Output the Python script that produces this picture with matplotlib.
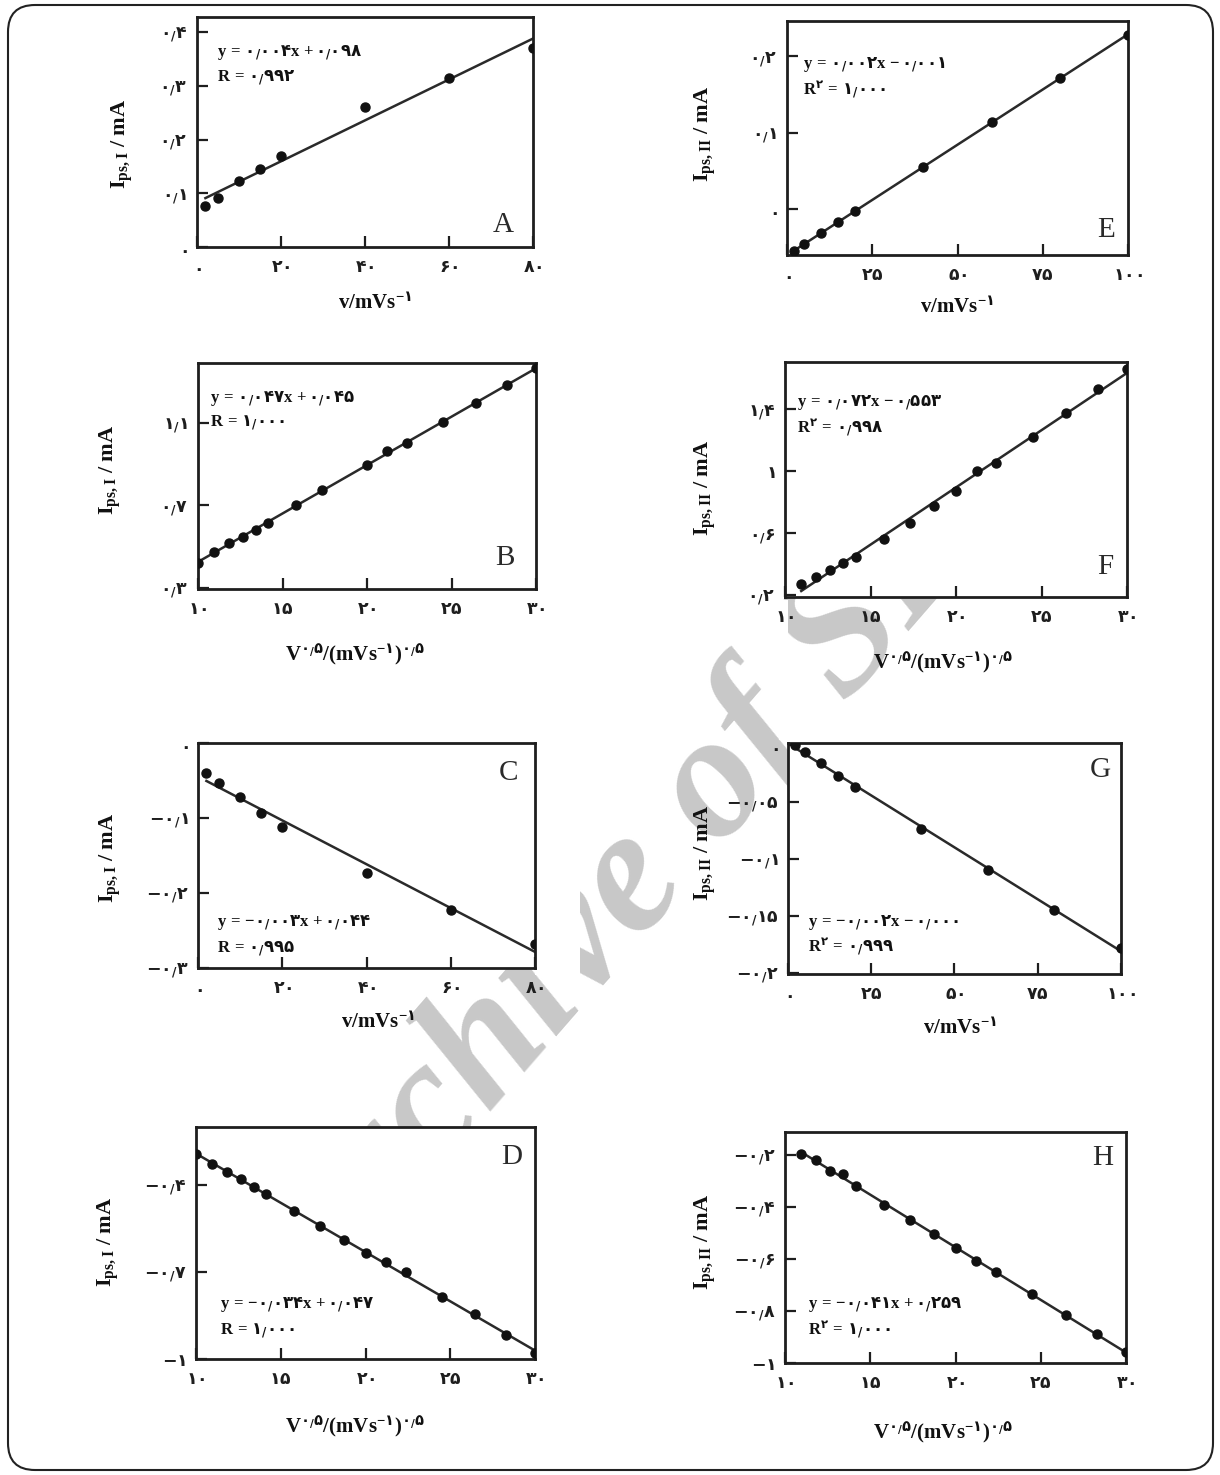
import numpy as np
import matplotlib
matplotlib.use('Agg')
import matplotlib.pyplot as plt
from matplotlib.patches import FancyBboxPatch, Rectangle

W, H = 1220, 1475

plt.rcParams['mathtext.fontset'] = 'custom'
plt.rcParams['mathtext.rm'] = 'Liberation Serif:bold'
plt.rcParams['mathtext.it'] = 'Liberation Serif:bold'
plt.rcParams['mathtext.bf'] = 'Liberation Serif:bold'
plt.rcParams['mathtext.sf'] = 'DejaVu Sans:bold'

FA = str.maketrans('0123456789', '۰۱۲۳۴۵۶۷۸۹')


def fam(s):
    # number written with Persian digits and a small low slash as decimal mark
    s = s.translate(FA)
    parts = s.split('.')
    return r'\mathsf{' + r'}_{\mathsf{/}}\mathsf{'.join(parts) + '}'


def tick(s):
    return '$' + fam(s) + '$'


def eq_math(s):
    out = []
    for tok in s.split():
        if tok == 'y':
            out.append(r'\mathbf{y}')
        elif tok == '=':
            out.append(r'\,\mathbf{=}\,')
        elif tok in ('+', '-'):
            out.append(r'\ \mathbf{' + tok + r'}\,')
        else:
            neg = tok.startswith('-')
            num = tok.lstrip('-')
            frag = fam(num.rstrip('x'))
            if num.endswith('x'):
                frag += r'\mathbf{x}'
            out.append((r'\mathbf{-}' if neg else '') + frag)
    return '$' + ''.join(out) + '$'


# ---- data ----
# A: Ips,I vs v
a_x = [2, 5, 10, 15, 20, 40, 60, 80]
a_y = [0.077, 0.091, 0.122, 0.145, 0.169, 0.260, 0.315, 0.371]
# E: Ips,II vs v
e_x = [2, 5, 10, 15, 20, 40, 60, 80, 100]
e_y = [-0.055, -0.046, -0.031, -0.017, -0.002, 0.055, 0.114, 0.171, 0.228]
# B: Ips,I vs v^0.5
b_x = [10.0, 10.95, 11.83, 12.65, 13.42, 14.14, 15.81, 17.32, 20.0,
       21.21, 22.36, 24.49, 26.46, 28.28, 30.0]
b_y = [0.423, 0.473, 0.517, 0.546, 0.582, 0.617, 0.702, 0.773, 0.898,
       0.962, 1.003, 1.103, 1.194, 1.281, 1.367]
# F: Ips,II vs v^0.5
f_x = [10.95, 11.83, 12.65, 13.42, 14.14, 15.81, 17.32, 18.71, 20.0,
       21.21, 22.36, 24.49, 26.46, 28.28, 30.0]
f_y = [0.271, 0.314, 0.364, 0.407, 0.448, 0.561, 0.667, 0.775, 0.872,
       1.000, 1.050, 1.219, 1.374, 1.530, 1.662]
# C: Ips,I (cathodic) vs v
c_x = [2, 5, 10, 15, 20, 40, 60, 80]
c_y = [-0.040, -0.054, -0.072, -0.093, -0.112, -0.174, -0.223, -0.268]
# G: Ips,II (cathodic) vs v
g_x = [2, 5, 10, 15, 20, 40, 60, 80, 100]
g_y = [0.0, -0.006, -0.016, -0.027, -0.037, -0.074, -0.110, -0.145, -0.178]
# D: Ips,I (cathodic) vs v^0.5
d_x = [10.0, 10.95, 11.83, 12.65, 13.42, 14.14, 15.81, 17.32, 18.71, 20.0,
       21.21, 22.36, 24.49, 26.46, 28.28, 30.0]
d_y = [-0.293, -0.328, -0.354, -0.381, -0.408, -0.431, -0.489, -0.541,
       -0.589, -0.633, -0.667, -0.701, -0.786, -0.844, -0.917, -0.978]
# H: Ips,II (cathodic) vs v^0.5
h_x = [10.95, 11.83, 12.65, 13.42, 14.14, 15.81, 17.32, 18.71, 20.0,
       21.21, 22.36, 24.49, 26.46, 28.28, 30.0]
h_y = [-0.196, -0.219, -0.260, -0.273, -0.319, -0.392, -0.450, -0.504,
       -0.559, -0.608, -0.649, -0.736, -0.815, -0.888, -0.959]

# tick labels
v80_ticks = ['0', '20', '40', '60', '80']
v100_ticks = ['0', '25', '50', '75', '100']
sq_ticks = ['10', '15', '20', '25', '30']
a_yticks = ['0', '0.1', '0.2', '0.3', '0.4']
e_yticks = ['0', '0.1', '0.2']
b_yticks = ['0.3', '0.7', '1.1']
f_yticks = ['0.2', '0.6', '1', '1.4']
c_yticks = ['0', '-0.1', '-0.2', '-0.3']
g_yticks = ['0', '-0.05', '-0.1', '-0.15', '-0.2']
d_yticks = ['-0.4', '-0.7', '-1']
h_yticks = ['-0.2', '-0.4', '-0.6', '-0.8', '-1']

# fit equations as printed
a_eq, a_r = 'y = 0.004x + 0.098', '0.992'
e_eq, e_r = 'y = 0.002x - 0.001', '1.000'
b_eq, b_r = 'y = 0.047x + 0.045', '1.000'
f_eq, f_r = 'y = 0.072x - 0.553', '0.998'
c_eq, c_r = 'y = -0.003x + 0.044', '0.995'
g_eq, g_r = 'y = -0.002x - 0.000', '0.999'
d_eq, d_r = 'y = -0.034x + 0.047', '1.000'
h_eq, h_r = 'y = -0.041x + 0.259', '1.000'

XLAB_V = r'$\mathbf{v/mVs}^{-\mathsf{' + '1'.translate(FA) + '}}$'
XLAB_SQ = (r'$\mathbf{V}^{' + fam('0.5') + r'}\mathbf{/(mVs}^{-\mathsf{'
           + '1'.translate(FA) + r'}}\mathbf{)}^{' + fam('0.5') + '}$')
YLAB_I = r'$\mathbf{I}_{\mathbf{ps,I}}$ / mA'
YLAB_II = r'$\mathbf{I}_{\mathbf{ps,II}}$ / mA'

# layout (pixel boxes: left, top, right, bottom) and text anchors
panels = [
    dict(name='A', box=(197, 17, 533, 247), x=a_x, y=a_y, xlim=(0, 80), ylim=(0, 0.428),
         xt=[0, 20, 40, 60, 80], xtl=v80_ticks, yt=[0, 0.1, 0.2, 0.3, 0.4], ytl=a_yticks,
         eq=a_eq, r=a_r, r2=False, eq_xy=(217, 53), let_xy=(503, 225),
         xlab=XLAB_V, xlab_xy=(375, 303), ylab=YLAB_I, ylab_xy=(122, 144)),
    dict(name='E', box=(787, 21, 1128, 255), x=e_x, y=e_y, xlim=(0, 100), ylim=(-0.060, 0.246),
         xt=[0, 25, 50, 75, 100], xtl=v100_ticks, yt=[0, 0.1, 0.2], ytl=e_yticks,
         eq=e_eq, r=e_r, r2=True, eq_xy=(803, 65), let_xy=(1106, 230),
         xlab=XLAB_V, xlab_xy=(957, 307), ylab=YLAB_II, ylab_xy=(705, 134)),
    dict(name='B', box=(198, 363, 536, 589), x=b_x, y=b_y, xlim=(10, 30), ylim=(0.295, 1.39),
         xt=[10, 15, 20, 25, 30], xtl=sq_ticks, yt=[0.3, 0.7, 1.1], ytl=b_yticks,
         eq=b_eq, r=b_r, r2=False, eq_xy=(210, 398), let_xy=(505, 558),
         xlab=XLAB_SQ, xlab_xy=(355, 655), ylab=YLAB_I, ylab_xy=(110, 470)),
    dict(name='F', box=(785, 362, 1127, 597), x=f_x, y=f_y, xlim=(10, 30), ylim=(0.187, 1.706),
         xt=[10, 15, 20, 25, 30], xtl=sq_ticks, yt=[0.2, 0.6, 1.0, 1.4], ytl=f_yticks,
         eq=f_eq, r=f_r, r2=True, eq_xy=(797, 403), let_xy=(1105, 567),
         xlab=XLAB_SQ, xlab_xy=(943, 663), ylab=YLAB_II, ylab_xy=(705, 488)),
    dict(name='C', box=(198, 743, 535, 968), x=c_x, y=c_y, xlim=(0, 80), ylim=(-0.3, 0.0),
         xt=[0, 20, 40, 60, 80], xtl=v80_ticks, yt=[0, -0.1, -0.2, -0.3], ytl=c_yticks,
         eq=c_eq, r=c_r, r2=False, eq_xy=(217, 923), let_xy=(508, 773),
         xlab=XLAB_V, xlab_xy=(378, 1022), ylab=YLAB_I, ylab_xy=(110, 858)),
    dict(name='G', box=(788, 743, 1121, 974), x=g_x, y=g_y, xlim=(0, 100), ylim=(-0.2009, 0.0018),
         xt=[0, 25, 50, 75, 100], xtl=v100_ticks, yt=[0, -0.05, -0.1, -0.15, -0.2], ytl=g_yticks,
         eq=g_eq, r=g_r, r2=True, eq_xy=(808, 922), let_xy=(1100, 770),
         xlab=XLAB_V, xlab_xy=(960, 1028), ylab=YLAB_II, ylab_xy=(705, 853)),
    dict(name='D', box=(196, 1127, 535, 1359), x=d_x, y=d_y, xlim=(10, 30), ylim=(-1.0, -0.2),
         xt=[10, 15, 20, 25, 30], xtl=sq_ticks, yt=[-0.4, -0.7, -1.0], ytl=d_yticks,
         eq=d_eq, r=d_r, r2=False, eq_xy=(220, 1305), let_xy=(512, 1157),
         xlab=XLAB_SQ, xlab_xy=(355, 1427), ylab=YLAB_I, ylab_xy=(108, 1242)),
    dict(name='H', box=(785, 1132, 1126, 1363), x=h_x, y=h_y, xlim=(10, 30), ylim=(-1.0, -0.112),
         xt=[10, 15, 20, 25, 30], xtl=sq_ticks, yt=[-0.2, -0.4, -0.6, -0.8, -1.0], ytl=h_yticks,
         eq=h_eq, r=h_r, r2=True, eq_xy=(808, 1305), let_xy=(1103, 1158),
         xlab=XLAB_SQ, xlab_xy=(943, 1433), ylab=YLAB_II, ylab_xy=(705, 1242)),
]

fig = plt.figure(figsize=(W / 100, H / 100), dpi=100)

# background layer in pixel coordinates: frame and watermark
bg = fig.add_axes([0, 0, 1, 1], zorder=-1)
bg.set_xlim(0, W)
bg.set_ylim(H, 0)
bg.axis('off')
bg.add_patch(FancyBboxPatch((8, 5), 1205, 1465, boxstyle='round,pad=0,rounding_size=27',
                            fill=False, lw=1.5, ec='#222222'))
bg.text(680, 905, 'Archive of SID', rotation=49, rotation_mode='anchor',
        ha='center', va='baseline', fontsize=128, family='Liberation Serif',
        weight='bold', style='italic', color='#c8c8c8', zorder=1)
# the pasted panel pictures cover parts of the watermark
for rx, ry, rw, rh in [(535, 730, 45, 245), (779, 600, 9, 140)]:
    bg.add_patch(Rectangle((rx, ry), rw, rh, fc='white', ec='none', zorder=2))

INK = '#1e1e1e'

for p in panels:
    l, t, r, b = p['box']
    ax = fig.add_axes([l / W, 1 - b / H, (r - l) / W, (b - t) / H])
    ax.set_facecolor('white')

    x = np.array(p['x'])
    y = np.array(p['y'])
    k, c0 = np.polyfit(x, y, 1)
    xl = np.array([x.min(), x.max()])
    ax.plot(xl, k * xl + c0, color='#2a2a2a', lw=1.8, zorder=2)
    ax.plot(x, y, 'o', color='#111111', ms=6.5, zorder=3)

    ax.set_xlim(*p['xlim'])
    ax.set_ylim(*p['ylim'])
    ax.set_xticks(p['xt'], labels=[tick(s) for s in p['xtl']], fontsize=12.5)
    ax.set_yticks(p['yt'], labels=[tick(s) for s in p['ytl']], fontsize=12.5)
    ax.tick_params(axis='x', direction='in', length=8, width=1.6, pad=8, colors=INK)
    ax.tick_params(axis='y', direction='in', length=8, width=1.6, pad=7, colors=INK)
    for s in ax.spines.values():
        s.set_linewidth(2.0)
        s.set_color(INK)

    tr = bg.transData
    ex, ey = p['eq_xy']
    ax.text(ex, ey, eq_math(p['eq']), transform=tr, ha='left', va='center',
            fontsize=12, color='#111111')
    if p['r2']:
        rs = (r'$\mathbf{R}^{\mathsf{' + '2'.translate(FA) + r'}}\,\mathbf{=}\,'
              + fam(p['r']) + '$')
    else:
        rs = r'$\mathbf{R}\,\mathbf{=}\,' + fam(p['r']) + '$'
    ax.text(ex, ey + 25, rs, transform=tr, ha='left', va='center',
            fontsize=12, color='#111111')

    lx, ly = p['let_xy']
    ax.text(lx, ly, p['name'], transform=tr, ha='center', va='center',
            fontsize=21, family='Liberation Serif', color='#2a2a2a')

    xx, xy = p['xlab_xy']
    ax.text(xx, xy, p['xlab'], transform=tr, ha='center', va='center',
            fontsize=15, color='#111111')
    yx, yy = p['ylab_xy']
    ax.text(yx, yy, p['ylab'], transform=tr, ha='center', va='center', rotation=90,
            fontsize=16, family='Liberation Serif', weight='bold', color='#111111')

fig.savefig('out.png', dpi=100)
